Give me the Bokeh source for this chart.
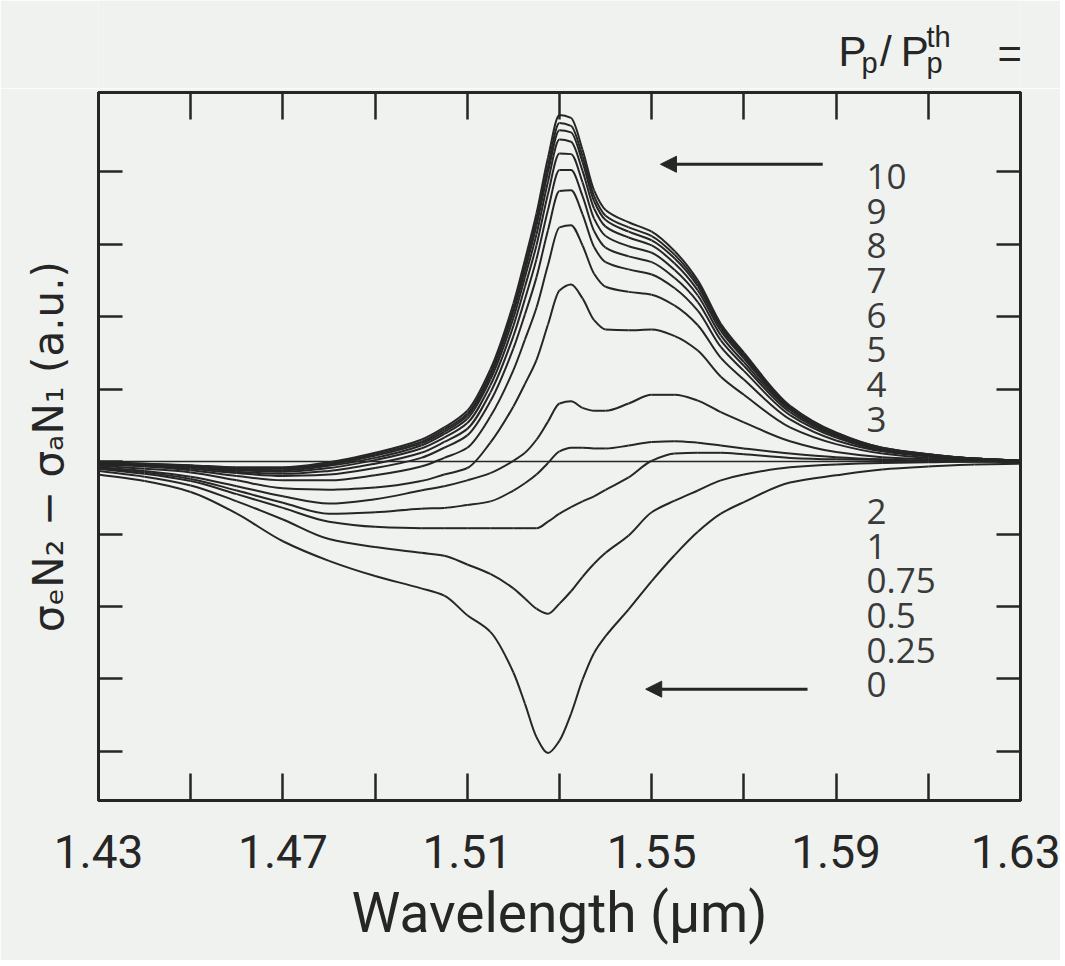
from bokeh.plotting import figure
from bokeh.layouts import column
from bokeh.models import (Range1d, FixedTicker, LinearAxis, Span, Arrow, NormalHead,
                          ColumnDataSource, CustomJSTickFormatter)
from bokeh.embed import file_html
from bokeh.resources import INLINE
from bokeh.core.properties import value

# ---------------- data ----------------
wavelength = [1.43, 1.44, 1.45, 1.46, 1.47, 1.48, 1.49, 1.50, 1.505, 1.51, 1.515, 1.52,
              1.5225, 1.525, 1.5275, 1.53, 1.5325, 1.535, 1.5375, 1.54, 1.545, 1.55,
              1.555, 1.56, 1.565, 1.57, 1.58, 1.59, 1.60, 1.61, 1.62, 1.63]

gain_p0 = [-0.18, -0.27, -0.42, -0.72, -1.10, -1.37, -1.58, -1.75, -1.85, -2.12, -2.35, -2.91,
           -3.34, -3.80, -4.02, -3.85, -3.48, -3.01, -2.64, -2.41, -2.04, -1.65,
           -1.29, -0.97, -0.72, -0.56, -0.29, -0.19, -0.11, -0.07, -0.04, -0.03]
gain_p025 = [-0.13, -0.21, -0.33, -0.55, -0.80, -1.07, -1.18, -1.26, -1.30, -1.42, -1.55, -1.75,
             -1.89, -2.03, -2.10, -1.96, -1.79, -1.59, -1.41, -1.26, -1.02, -0.70,
             -0.54, -0.40, -0.26, -0.18, -0.08, -0.04, -0.02, -0.01, 0.00, 0.00]
gain_p05 = [-0.10, -0.17, -0.27, -0.45, -0.64, -0.83, -0.90, -0.92, -0.92, -0.92, -0.92, -0.92,
            -0.92, -0.92, -0.83, -0.72, -0.63, -0.55, -0.48, -0.39, -0.22, 0.01,
            0.11, 0.12, 0.12, 0.10, 0.05, 0.03, 0.02, 0.01, 0.00, 0.00]
gain_p075 = [-0.09, -0.15, -0.24, -0.40, -0.57, -0.72, -0.70, -0.65, -0.64, -0.60, -0.55, -0.40,
             -0.30, -0.18, -0.02, 0.14, 0.19, 0.19, 0.18, 0.18, 0.22, 0.27,
             0.28, 0.26, 0.22, 0.18, 0.11, 0.06, 0.03, 0.01, 0.00, 0.00]
gain_p1 = [-0.08, -0.13, -0.21, -0.34, -0.48, -0.58, -0.52, -0.40, -0.34, -0.26, -0.16, 0.01,
           0.12, 0.30, 0.55, 0.80, 0.83, 0.74, 0.70, 0.70, 0.80, 0.92,
           0.92, 0.84, 0.68, 0.54, 0.28, 0.13, 0.06, 0.03, 0.01, 0.00]
gain_p2 = [-0.06, -0.10, -0.15, -0.26, -0.37, -0.39, -0.36, -0.27, -0.18, -0.09, 0.26, 0.76,
           1.07, 1.40, 1.89, 2.36, 2.44, 2.25, 1.95, 1.82, 1.81, 1.82,
           1.73, 1.53, 1.17, 0.92, 0.47, 0.24, 0.11, 0.05, 0.02, 0.00]
gain_p3 = [-0.04, -0.07, -0.12, -0.20, -0.26, -0.26, -0.19, -0.07, 0.05, 0.19, 0.62, 1.26,
           1.68, 2.12, 2.71, 3.23, 3.26, 2.98, 2.59, 2.41, 2.34, 2.30,
           2.15, 1.88, 1.43, 1.13, 0.58, 0.29, 0.14, 0.07, 0.03, 0.00]
gain_p4 = [-0.03, -0.06, -0.10, -0.16, -0.20, -0.18, -0.09, 0.05, 0.19, 0.36, 0.83, 1.56,
           2.03, 2.54, 3.19, 3.73, 3.74, 3.41, 2.96, 2.75, 2.65, 2.58,
           2.39, 2.08, 1.58, 1.25, 0.64, 0.33, 0.15, 0.08, 0.03, 0.01]
gain_p5 = [-0.03, -0.05, -0.08, -0.14, -0.17, -0.13, -0.03, 0.12, 0.27, 0.45, 0.95, 1.73,
           2.24, 2.79, 3.47, 4.02, 4.02, 3.66, 3.18, 2.95, 2.83, 2.75,
           2.53, 2.20, 1.67, 1.32, 0.68, 0.35, 0.16, 0.09, 0.03, 0.01]
gain_p6 = [-0.02, -0.05, -0.07, -0.12, -0.14, -0.09, 0.02, 0.18, 0.33, 0.53, 1.05, 1.87,
           2.41, 2.98, 3.69, 4.25, 4.24, 3.85, 3.35, 3.11, 2.97, 2.88,
           2.64, 2.29, 1.74, 1.37, 0.71, 0.36, 0.17, 0.09, 0.04, 0.01]
gain_p7 = [-0.02, -0.04, -0.07, -0.11, -0.12, -0.06, 0.05, 0.22, 0.38, 0.59, 1.13, 1.98,
           2.54, 3.13, 3.86, 4.44, 4.41, 4.01, 3.49, 3.24, 3.09, 2.98,
           2.73, 2.36, 1.80, 1.42, 0.73, 0.38, 0.18, 0.09, 0.04, 0.01]
gain_p8 = [-0.01, -0.04, -0.06, -0.10, -0.10, -0.04, 0.08, 0.25, 0.41, 0.63, 1.18, 2.06,
           2.63, 3.25, 3.99, 4.57, 4.54, 4.13, 3.59, 3.33, 3.17, 3.05,
           2.80, 2.42, 1.84, 1.45, 0.75, 0.39, 0.18, 0.10, 0.04, 0.01]
gain_p9 = [-0.01, -0.03, -0.06, -0.09, -0.09, -0.03, 0.10, 0.27, 0.44, 0.66, 1.22, 2.11,
           2.70, 3.33, 4.08, 4.67, 4.63, 4.21, 3.66, 3.39, 3.23, 3.11,
           2.85, 2.46, 1.87, 1.47, 0.76, 0.39, 0.19, 0.10, 0.04, 0.01]
gain_p10 = [-0.01, -0.03, -0.05, -0.08, -0.08, -0.01, 0.12, 0.30, 0.47, 0.70, 1.27, 2.18,
            2.78, 3.42, 4.19, 4.78, 4.74, 4.30, 3.74, 3.47, 3.30, 3.17,
            2.90, 2.50, 1.90, 1.50, 0.77, 0.40, 0.19, 0.10, 0.04, 0.01]

curves = [gain_p0, gain_p025, gain_p05, gain_p075, gain_p1, gain_p2, gain_p3,
          gain_p4, gain_p5, gain_p6, gain_p7, gain_p8, gain_p9, gain_p10]

pump_labels_upper = ["10", "9", "8", "7", "6", "5", "4", "3"]
pump_labels_lower = ["2", "1", "0.75", "0.5", "0.25", "0"]

x_label_ticks = [1.43, 1.47, 1.51, 1.55, 1.59, 1.63]
x_minor_ticks = [1.45, 1.49, 1.53, 1.57, 1.61]
y_ticks = [-4, -3, -2, -1, 0, 1, 2, 3, 4]

# ---------------- styling ----------------
INK = "#262626"
PAPER = "#f0f2ef"
SANS = "Roboto"

FRAME_L, FRAME_W, FRAME_H = 98, 922, 708
HEADER_H = 88
TOP_GAP = 4
BOTTOM_B = 160
RIGHT_B = 40
TOTAL_W = FRAME_L + FRAME_W + RIGHT_B

xr = Range1d(1.43, 1.63)
p = figure(width=TOTAL_W, height=TOP_GAP + FRAME_H + BOTTOM_B,
           x_range=xr, y_range=Range1d(-4.676, 5.09),
           output_backend="svg", toolbar_location=None,
           min_border_left=FRAME_L, min_border_right=RIGHT_B,
           min_border_top=TOP_GAP, min_border_bottom=BOTTOM_B)
p.background_fill_color = PAPER
p.border_fill_color = PAPER
p.outline_line_color = INK
p.outline_line_width = 3
p.grid.visible = False

xticker = FixedTicker(ticks=x_label_ticks, minor_ticks=x_minor_ticks)
yticker = FixedTicker(ticks=y_ticks, minor_ticks=[])


def style_axis(ax, ticker, tick_len, labels=True):
    ax.ticker = ticker
    ax.axis_line_color = INK
    ax.axis_line_width = 3
    ax.major_tick_line_color = INK
    ax.major_tick_line_width = 2.5
    ax.minor_tick_line_color = INK
    ax.minor_tick_line_width = 2.5
    ax.major_tick_in = tick_len
    ax.major_tick_out = 0
    ax.minor_tick_in = tick_len
    ax.minor_tick_out = 0
    if not labels:
        ax.formatter = CustomJSTickFormatter(code="return ''")
        ax.major_label_text_color = None
        ax.major_label_standoff = 0


bx = p.xaxis[0]
style_axis(bx, xticker, 27)
bx.major_label_text_font = SANS
bx.major_label_text_font_size = "46px"
bx.major_label_text_color = INK
bx.major_label_standoff = 34
bx.axis_label = "Wavelength (\u03bcm)"
bx.axis_label_text_font = SANS
bx.axis_label_text_font_size = "55px"
bx.axis_label_text_font_style = "normal"
bx.axis_label_text_color = INK
bx.axis_label_standoff = 10

ly = p.yaxis[0]
style_axis(ly, yticker, 24, labels=False)
ly.axis_label = "\u03c3\u2091N\u2082 \u2212 \u03c3\u2090N\u2081 (a.u.)"
ly.axis_label_text_font = "DejaVu Sans"
ly.axis_label_text_font_size = "42px"
ly.axis_label_text_font_style = "normal"
ly.axis_label_text_color = INK
ly.axis_label_standoff = 26

top_ax = LinearAxis()
style_axis(top_ax, xticker, 27, labels=False)
p.add_layout(top_ax, "above")
right_ax = LinearAxis()
style_axis(right_ax, yticker, 24, labels=False)
p.add_layout(right_ax, "right")

# zero line
p.add_layout(Span(location=0, dimension="width", line_color=INK, line_width=1.6))


# curves: smooth (monotone cubic) path through every read point, drawn as Bezier segments
def smooth_path(xs, ys):
    n = len(xs)
    h = [xs[i + 1] - xs[i] for i in range(n - 1)]
    d = [(ys[i + 1] - ys[i]) / h[i] for i in range(n - 1)]
    m = [0.0] * n
    m[0], m[-1] = d[0], d[-1]
    for i in range(1, n - 1):
        if d[i - 1] * d[i] <= 0:
            m[i] = 0.0
        else:
            w1 = 2 * h[i] + h[i - 1]
            w2 = h[i] + 2 * h[i - 1]
            m[i] = (w1 + w2) / (w1 / d[i - 1] + w2 / d[i])
    seg = dict(x0=[], y0=[], x1=[], y1=[], cx0=[], cy0=[], cx1=[], cy1=[])
    for i in range(n - 1):
        seg["x0"].append(xs[i]); seg["y0"].append(ys[i])
        seg["x1"].append(xs[i + 1]); seg["y1"].append(ys[i + 1])
        seg["cx0"].append(xs[i] + h[i] / 3); seg["cy0"].append(ys[i] + m[i] * h[i] / 3)
        seg["cx1"].append(xs[i + 1] - h[i] / 3); seg["cy1"].append(ys[i + 1] - m[i + 1] * h[i] / 3)
    return ColumnDataSource(seg)


for g in curves:
    p.bezier(x0="x0", y0="y0", x1="x1", y1="y1", cx0="cx0", cy0="cy0", cx1="cx1", cy1="cy1",
             source=smooth_path(wavelength, g), line_color=INK, line_width=2.0)

# pump-ratio labels on the right
label_x = 1.5966
upper_y = [3.93 - 0.478 * i for i in range(len(pump_labels_upper))]
lower_y = [-0.69 - 0.478 * i for i in range(len(pump_labels_lower))]
lab_src = ColumnDataSource(dict(x=[label_x] * (len(upper_y) + len(lower_y)),
                                y=upper_y + lower_y,
                                t=pump_labels_upper + pump_labels_lower))
p.text(x="x", y="y", text="t", source=lab_src, text_font=value("Open Sans"),
       text_font_size="35px", text_color="#3a3a3a", text_align="left", text_baseline="middle")

# arrows
p.add_layout(Arrow(end=NormalHead(size=16, fill_color=INK, line_color=INK),
                   x_start=1.5871, y_start=4.10, x_end=1.5519, y_end=4.10,
                   line_color=INK, line_width=3))
p.add_layout(Arrow(end=NormalHead(size=16, fill_color=INK, line_color=INK),
                   x_start=1.5838, y_start=-3.14, x_end=1.5487, y_end=-3.14,
                   line_color=INK, line_width=3))

# header strip carrying  P_p / P_p^th =   (shares the wavelength axis so it lines up with the frame)
head = figure(width=TOTAL_W, height=HEADER_H, x_range=xr,
              y_range=Range1d(HEADER_H, 0), output_backend="svg", toolbar_location=None,
              min_border_left=FRAME_L, min_border_right=RIGHT_B, min_border_top=0,
              min_border_bottom=0, x_axis_location=None, y_axis_location=None, title=None)
head.background_fill_color = PAPER
head.border_fill_color = PAPER
head.outline_line_color = None
head.grid.visible = False

big = dict(text_font=value("Liberation Sans"), text_font_size="42px", text_color=INK,
           text_baseline="alphabetic", text_align="left")
small = dict(text_font=value("Liberation Sans"), text_font_size="29px", text_color=INK,
             text_baseline="alphabetic", text_align="left")
head.text(x=[1.5905, 1.5995, 1.6040, 1.6250], y=[51, 51, 51, 53],
          text=["P", "/", "P", "="], **big)
head.text(x=[1.5955, 1.6096, 1.6096], y=[62, 36, 62], text=["p", "th", "p"], **small)

layout = column(head, p, spacing=0)
open("out.html", "w").write(file_html(layout, INLINE))
